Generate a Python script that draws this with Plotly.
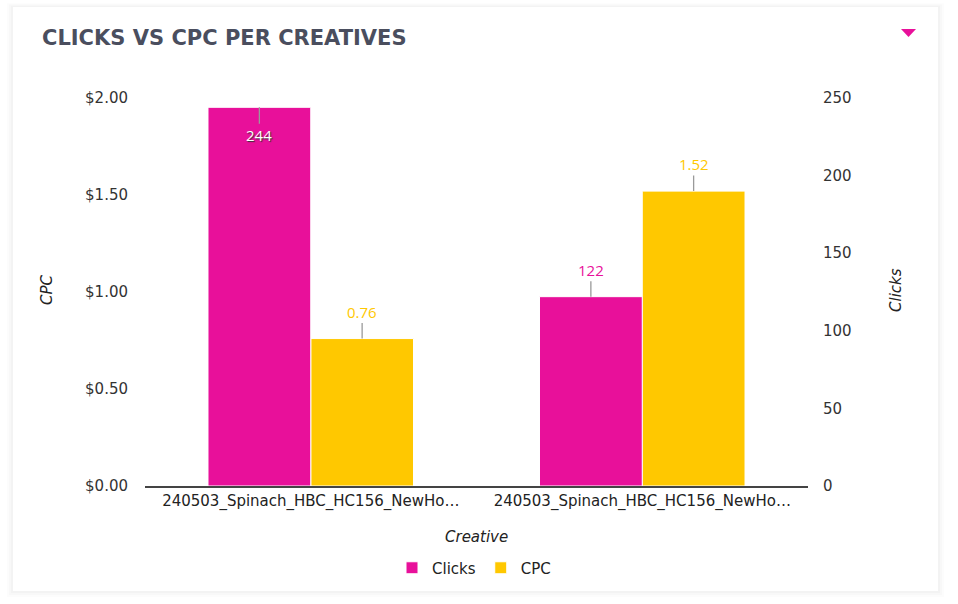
import plotly.graph_objects as go

categories = ["240503_Spinach_HBC_HC156_NewHo…", "240503_Spinach_HBC_HC156_NewHo…"]
clicks = [244, 122]
cpc = [0.76, 1.52]
cpc_ticks = [0, 0.5, 1.0, 1.5, 2.0]
click_ticks = [0, 50, 100, 150, 200, 250]

PINK = "#E8109A"
YELLOW = "#FFC800"
FONT = "DejaVu Sans"
LFONT = "Open Sans"

W, H = 958, 604
L, R, T, B = 145, 150, 98, 118
pw, ph = W - L - R, H - T - B

def px(x):
    return (x - L) / pw

def py(y):
    return (H - B - y) / ph

xs = list(range(len(categories)))
bargap = 0.38
bw = (1 - bargap) / 2

fig = go.Figure()
fig.add_trace(go.Bar(
    x=xs, y=clicks, name="Clicks", yaxis="y2", offsetgroup="1",
    marker=dict(color=PINK, line=dict(color="white", width=1)),
    hoverinfo="skip"))
fig.add_trace(go.Bar(
    x=xs, y=cpc, name="CPC", yaxis="y", offsetgroup="2",
    marker=dict(color=YELLOW, line=dict(color="white", width=1)),
    hoverinfo="skip"))

annotations = []
for i, v in enumerate(clicks):
    inside = v / 250 > 0.9
    annotations.append(dict(
        x=i - bw / 2, y=v, xref="x", yref="y2", text=str(v),
        showarrow=True, arrowhead=0, arrowwidth=1.3, arrowcolor="#9a9a9a",
        ax=0, ay=28 if inside else -27,
        font=dict(family=LFONT, size=15,
                  color="white" if inside else PINK,
                  shadow="1px 1px 1px #333" if inside else "none")))
for i, v in enumerate(cpc):
    annotations.append(dict(
        x=i + bw / 2, y=v, xref="x", yref="y", text=f"{v:.2f}",
        showarrow=True, arrowhead=0, arrowwidth=1.3, arrowcolor="#9a9a9a",
        ax=0, ay=-27,
        font=dict(family=LFONT, size=15, color=YELLOW)))

# title, axis titles
annotations += [
    dict(x=px(40), y=py(38), xref="paper", yref="paper", xanchor="left", yanchor="middle",
         text="<b>CLICKS VS CPC PER CREATIVES</b>", showarrow=False,
         font=dict(family="DejaVu Sans", size=21, color="#4A4E5E")),
    dict(x=px(47), y=py(290), xref="paper", yref="paper", xanchor="center", yanchor="middle",
         text="<i>CPC</i>", textangle=-90, showarrow=False,
         font=dict(family=FONT, size=15, color="#222")),
    dict(x=px(896), y=py(290), xref="paper", yref="paper", xanchor="center", yanchor="middle",
         text="<i>Clicks</i>", textangle=-90, showarrow=False,
         font=dict(family=FONT, size=15, color="#222")),
    dict(x=px(476), y=py(537), xref="paper", yref="paper", xanchor="center", yanchor="middle",
         text="<i>Creative</i>", showarrow=False,
         font=dict(family=FONT, size=15, color="#222")),
]

shapes = []
# card shadow layers
for k, c in enumerate(["#fcfcfc", "#f8f8f8", "#f3f3f3"]):
    d = 6 - 2 * k
    shapes.append(dict(type="rect", xref="paper", yref="paper", layer="below",
                       x0=px(13 - d), x1=px(938 + d), y0=py(591 + d), y1=py(7 - d * 0.6),
                       line=dict(width=0), fillcolor=c))
shapes.append(dict(type="rect", xref="paper", yref="paper", layer="below",
                   x0=px(13), x1=px(938), y0=py(591), y1=py(7),
                   line=dict(width=0), fillcolor="white"))
# dropdown triangle
shapes.append(dict(type="path", xref="paper", yref="paper",
                   path=f"M {px(901)} {py(29)} L {px(916)} {py(29)} L {px(908.5)} {py(37)} Z",
                   line=dict(width=0), fillcolor=PINK))

fig.update_layout(
    width=W, height=H,
    margin=dict(l=L, r=R, t=T, b=B),
    paper_bgcolor="white", plot_bgcolor="rgba(0,0,0,0)",
    barmode="group", bargap=bargap, bargroupgap=0,
    font=dict(family=FONT, size=15, color="#333"),
    showlegend=True,
    legend=dict(orientation="h", x=px(474), y=py(568), xanchor="center", yanchor="middle",
                font=dict(family=FONT, size=15, color="#222"), bgcolor="rgba(0,0,0,0)",
                itemclick=False),
    xaxis=dict(range=[-0.5, len(categories) - 0.5], tickvals=xs, ticktext=categories,
               showgrid=False, zeroline=False, showline=True, linecolor="#444", linewidth=1.5,
               ticks="", tickfont=dict(family=FONT, size=15, color="#222")),
    yaxis=dict(range=[0, 2], tickvals=cpc_ticks, tickformat="$.2f", showgrid=False,
               zeroline=False, showline=False, ticks="", ticklabelstandoff=16,
               tickfont=dict(family=FONT, size=15, color="#333")),
    yaxis2=dict(range=[0, 250], tickvals=click_ticks, overlaying="y", side="right",
                showgrid=False, zeroline=False, showline=False, ticks="", ticklabelstandoff=14,
                tickfont=dict(family=FONT, size=15, color="#333")),
    annotations=annotations, shapes=shapes,
)

fig.write_html("out.html")
